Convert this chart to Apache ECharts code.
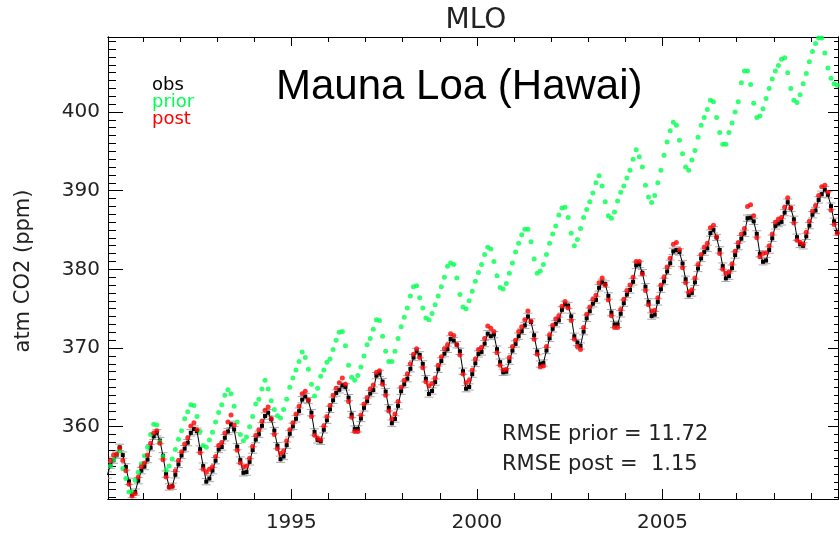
<!DOCTYPE html>
<html><head><meta charset="utf-8">
<script src="https://cdn.jsdelivr.net/npm/echarts@6/dist/echarts.min.js"></script>
<style>html,body{margin:0;padding:0;background:#fff}#c{width:840px;height:539px}</style>
</head><body><div id="c"></div>
<script>
// Monthly values, Jan 1990 .. Sep 2009 (one row per year)
const startYear = 1990;
const obs = [
353.86,355.10,355.75,356.38,357.38,356.39,354.89,353.06,351.38,351.69,353.14,354.41,
354.93,355.82,357.33,358.77,359.23,358.23,356.30,353.97,352.34,352.43,353.89,355.21,
356.34,357.21,357.97,359.22,359.71,359.43,357.15,354.99,353.01,353.41,354.42,355.68,
357.10,357.42,358.59,359.39,360.30,359.64,357.46,355.76,354.14,354.23,355.53,357.03,
358.36,359.04,360.11,361.36,361.78,360.94,359.51,357.59,355.86,356.21,357.65,359.10,
360.04,361.00,361.98,363.44,363.83,363.33,361.78,359.33,358.32,358.14,359.61,360.82,
362.20,363.36,364.28,364.69,365.25,365.06,363.69,361.55,359.69,359.72,361.04,362.39,
363.24,364.21,364.65,366.49,366.77,365.73,364.46,362.40,360.44,360.98,362.65,364.51,
365.39,366.10,367.36,368.79,369.56,369.13,367.98,366.10,364.16,364.54,365.67,367.30,
368.35,369.28,369.84,371.15,370.95,370.42,369.58,367.05,364.83,365.05,366.68,368.06,
369.25,369.50,370.56,371.82,371.51,371.71,369.85,368.20,366.91,366.99,368.33,369.67,
370.52,371.50,372.12,372.87,374.02,373.31,371.62,369.55,367.96,368.09,369.68,371.24,
372.44,373.08,373.52,374.85,375.55,375.40,374.02,371.49,370.71,370.25,372.08,373.78,
374.68,375.63,376.11,377.65,378.35,378.13,376.62,374.50,372.99,373.01,374.35,375.70,
376.79,377.37,378.41,380.52,380.63,379.57,377.79,375.86,374.06,374.24,375.86,377.48,
378.46,379.73,380.77,382.29,382.45,382.21,380.74,378.74,376.70,377.00,378.35,380.11,
381.38,382.19,382.67,384.61,385.03,384.05,382.46,380.41,378.85,379.13,380.15,381.82,
382.89,383.90,384.58,386.50,386.56,386.10,384.50,381.99,380.96,381.12,382.45,383.95,
385.52,385.82,386.03,387.21,388.54,387.76,386.36,384.09,383.18,382.99,384.19,385.56,
386.94,387.48,388.82,389.55,390.14,389.48,388.03,386.11,384.74
];
const prior = [
354.0,355.0,355.8,356.4,356.9,354.7,353.4,351.7,351.7,353.2,354.2,355.3,
356.3,357.4,359.0,360.3,360.2,358.1,356.2,354.5,355.0,355.9,357.1,358.4,
359.5,361.0,361.9,362.8,362.7,361.3,359.4,357.6,357.4,358.3,359.3,360.6,
361.8,362.8,364.0,364.7,364.2,362.6,360.6,359.0,358.2,358.7,360.0,361.3,
362.9,363.5,364.8,365.9,364.8,363.3,362.2,361.4,361.1,362.2,363.5,365.0,
366.2,367.2,368.3,369.5,368.8,367.3,365.4,363.9,364.9,366.4,367.2,368.2,
368.6,369.8,371.0,372.0,372.1,370.3,367.8,366.3,365.9,366.5,367.6,369.0,
370.4,371.2,372.4,373.6,373.5,371.5,369.6,368.3,368.3,369.6,371.2,372.7,
373.9,375.1,376.6,377.8,377.9,376.4,375.1,373.8,373.6,374.4,375.5,376.6,
377.8,379.0,380.4,380.8,380.6,378.9,376.8,375.2,375.0,376.0,377.2,378.5,
379.6,380.6,381.9,382.8,382.6,381.0,379.2,377.7,377.5,378.2,379.5,380.8,
382.2,383.3,384.4,385.1,385.1,383.5,381.3,379.5,379.8,380.6,381.9,383.3,
384.5,385.5,386.9,387.8,387.9,386.6,384.6,383.0,383.8,385.2,386.6,387.6,
388.6,389.7,391.0,391.9,390.6,388.6,386.8,386.5,387.3,388.7,389.8,390.6,
391.6,392.6,394.0,395.2,394.3,393.0,390.7,389.2,388.5,389.4,391.0,392.6,
394.5,396.2,397.6,398.7,398.3,396.4,394.7,393.0,392.6,393.9,395.1,396.8,
398.3,399.3,400.3,401.5,401.3,399.3,397.4,395.9,395.9,397.4,398.6,400.0,
401.3,403.7,405.2,405.2,403.5,401.1,399.3,399.5,400.4,401.7,403.0,404.2,
405.2,405.9,406.7,406.9,405.0,403.0,401.5,401.2,402.2,403.6,404.9,406.4,
407.7,408.7,409.4,409.4,407.5,405.6,404.3,403.6,403.4
];
const post = [
354.4,355.7,356.4,356.5,357.3,355.7,354.4,352.7,351.2,351.5,353.6,354.9,
355.4,356.4,357.9,359.2,359.5,357.9,355.8,353.6,352.3,352.4,354.4,355.7,
356.8,357.8,358.6,360.1,360.5,359.6,356.7,354.6,354.2,354.6,354.9,356.2,
357.6,358.0,359.2,360.6,361.5,360.2,357.0,355.4,354.9,355.0,356.0,357.5,
358.9,359.6,360.7,362.1,362.5,361.0,359.0,357.2,356.6,356.9,358.2,359.6,
360.5,361.6,362.6,364.2,364.5,363.4,361.3,358.9,358.5,358.3,360.1,361.3,
362.7,364.0,364.9,365.6,366.2,365.4,363.2,361.2,359.4,359.4,361.5,362.9,
363.7,364.8,365.3,366.9,367.1,365.4,364.0,362.0,361.0,361.6,363.2,365.0,
365.9,366.7,368.0,369.2,369.9,368.8,367.5,365.7,365.2,365.5,366.2,367.8,
368.9,369.9,370.4,371.8,371.6,370.4,369.1,366.7,365.6,365.9,367.2,368.6,
369.8,370.1,371.2,372.8,372.5,372.1,369.4,367.8,367.2,367.3,368.8,370.2,
371.0,372.1,372.7,373.6,374.7,373.4,371.1,369.2,367.6,367.7,370.2,371.7,
372.9,373.7,374.1,375.3,375.9,375.1,373.5,371.1,370.2,369.8,372.6,374.3,
375.2,376.2,376.7,378.3,378.9,378.0,376.1,374.1,372.6,372.6,374.9,376.2,
377.3,378.0,379.0,381.0,381.0,379.4,377.3,375.5,374.7,374.8,376.4,378.0,
379.0,380.3,381.4,383.2,383.4,382.5,380.2,378.3,377.1,377.4,378.9,380.6,
381.9,382.8,383.3,385.3,385.6,384.1,382.0,380.0,379.5,379.7,380.7,382.3,
383.4,384.5,385.2,388.0,388.2,386.8,384.0,381.6,382.0,382.1,383.0,384.5,
386.0,386.4,386.6,387.9,389.1,387.8,385.9,383.7,383.4,383.2,384.7,386.1,
387.4,388.1,389.4,390.5,390.7,389.8,387.5,385.7,384.6
];
const obsErr = 0.4;
const xMinorTicks = [1991,1992,1993,1994,1995,1996,1997,1998,1999,2000,2001,2002,2003,2004,2005,2006,2007,2008,2009];
const xMajorTicks = [1995,2000,2005];
const yMinorTicks = [351,352,353,354,355,356,357,358,359,360,361,362,363,364,365,366,367,368,369,370,371,372,373,374,375,376,377,378,379,380,381,382,383,384,385,386,387,388,389,390,391,392,393,394,395,396,397,398,399,400,401,402,403,404,405,406,407,408,409];
const yMajorTicks = [360,370,380,390,400];
const xRange = [1990.06, 2009.73];
const yRange = [350.81, 409.53];

const t = obs.map((v, i) => startYear + (i + 0.5) / 12);
const GREEN = '#00ff50', RED = '#ff0000', GRAY = '#a8a8a8';
const FONT = 'DejaVu Sans';

function xAx(pos, ticks, len, labels) {
  return {
    type: 'value', position: pos, offset: 0, min: xRange[0], max: xRange[1],
    axisLine: { show: true, onZero: false, lineStyle: { color: '#000', width: 1 } },
    axisTick: { show: true, inside: true, length: len, customValues: ticks, lineStyle: { color: '#000', width: 1 } },
    axisLabel: labels ? { show: true, customValues: labels, fontFamily: FONT, fontSize: 20, color: '#222', margin: 14,
      formatter: v => String(Math.round(v)) } : { show: false },
    splitLine: { show: false }
  };
}
function yAx(pos, ticks, len, labels) {
  return {
    type: 'value', position: pos, offset: 0, min: yRange[0], max: yRange[1],
    axisLine: { show: true, onZero: false, lineStyle: { color: '#000', width: 1 } },
    axisTick: { show: true, inside: true, length: len, customValues: ticks, lineStyle: { color: '#000', width: 1 } },
    axisLabel: labels ? { show: true, customValues: labels, fontFamily: FONT, fontSize: 20, color: '#222', margin: 8,
      formatter: v => String(Math.round(v)) } : { show: false },
    splitLine: { show: false }
  };
}

const chart = echarts.init(document.getElementById('c'), null, { renderer: 'canvas' });
chart.setOption({
  animation: false,
  backgroundColor: '#fff',
  grid: { left: 108, right: 2, top: 37, bottom: 40, containLabel: false },
  xAxis: [
    xAx('bottom', xMinorTicks, 6, xMajorTicks),
    xAx('bottom', xMajorTicks, 10, null),
    xAx('top', xMinorTicks, 5, null),
    xAx('top', xMajorTicks, 9, null)
  ],
  yAxis: [
    yAx('left', yMinorTicks, 8, yMajorTicks),
    yAx('left', yMajorTicks, 15, null),
    yAx('right', yMinorTicks, 4, null),
    yAx('right', yMajorTicks, 10, null)
  ],
  series: [
    {
      type: 'custom', name: 'err', xAxisIndex: 0, yAxisIndex: 0, clip: true,
      data: obs.map((v, i) => [t[i], v - obsErr, v + obsErr]),
      encode: { x: 0, y: [1, 2] },
      renderItem: function (params, api) {
        const x = api.value(0);
        const lo = api.coord([x, api.value(1)]);
        const hi = api.coord([x, api.value(2)]);
        const w = 4.5;
        const st = { stroke: GRAY, lineWidth: 1 };
        return { type: 'group', children: [
          { type: 'line', shape: { x1: lo[0], y1: lo[1], x2: hi[0], y2: hi[1] }, style: st },
          { type: 'line', shape: { x1: lo[0] - w, y1: lo[1], x2: lo[0] + w, y2: lo[1] }, style: st },
          { type: 'line', shape: { x1: hi[0] - w, y1: hi[1], x2: hi[0] + w, y2: hi[1] }, style: st }
        ] };
      },
      z: 1
    },
    {
      type: 'line', name: 'obs', xAxisIndex: 0, yAxisIndex: 0,
      data: obs.map((v, i) => [t[i], v]),
      symbol: 'rect', symbolSize: 4, showSymbol: true, showAllSymbol: true,
      itemStyle: { color: '#000' }, lineStyle: { color: '#000', width: 1 }, z: 2
    },
    {
      type: 'scatter', name: 'prior', xAxisIndex: 0, yAxisIndex: 0,
      data: prior.map((v, i) => [t[i], v]),
      symbol: 'circle', symbolSize: 5, itemStyle: { color: GREEN }, z: 3
    },
    {
      type: 'scatter', name: 'post', xAxisIndex: 0, yAxisIndex: 0,
      data: post.map((v, i) => [t[i], v]),
      symbol: 'circle', symbolSize: 5, itemStyle: { color: RED }, z: 4
    }
  ],
  graphic: [
    { type: 'text', x: 476, y: 21, style: { text: 'MLO', fontFamily: FONT, fontSize: 28, fill: '#222', align: 'center', verticalAlign: 'middle' } },
    { type: 'text', x: 24, y: 271, rotation: Math.PI / 2, style: { text: 'atm CO2 (ppm)', fontFamily: FONT, fontSize: 21, fill: '#222', align: 'center', verticalAlign: 'middle' } },
    { type: 'text', x: 152, y: 85.5, style: { text: 'obs', fontFamily: FONT, fontSize: 18, fill: '#000', align: 'left', verticalAlign: 'middle' } },
    { type: 'text', x: 152, y: 102.8, style: { text: 'prior', fontFamily: FONT, fontSize: 18, fill: GREEN, align: 'left', verticalAlign: 'middle' } },
    { type: 'text', x: 152, y: 119.8, style: { text: 'post', fontFamily: FONT, fontSize: 18, fill: RED, align: 'left', verticalAlign: 'middle' } },
    { type: 'text', x: 276, y: 87.4, style: { text: 'Mauna Loa (Hawai)', fontFamily: 'Liberation Sans', fontSize: 42, fill: '#000', align: 'left', verticalAlign: 'middle' } },
    { type: 'text', x: 502, y: 434.7, style: { text: 'RMSE prior = 11.72', fontFamily: FONT, fontSize: 21, fill: '#222', align: 'left', verticalAlign: 'middle' } },
    { type: 'text', x: 502, y: 464.7, style: { text: 'RMSE post =  1.15', fontFamily: FONT, fontSize: 21, fill: '#222', align: 'left', verticalAlign: 'middle' } }
  ]
});
</script></body></html>
